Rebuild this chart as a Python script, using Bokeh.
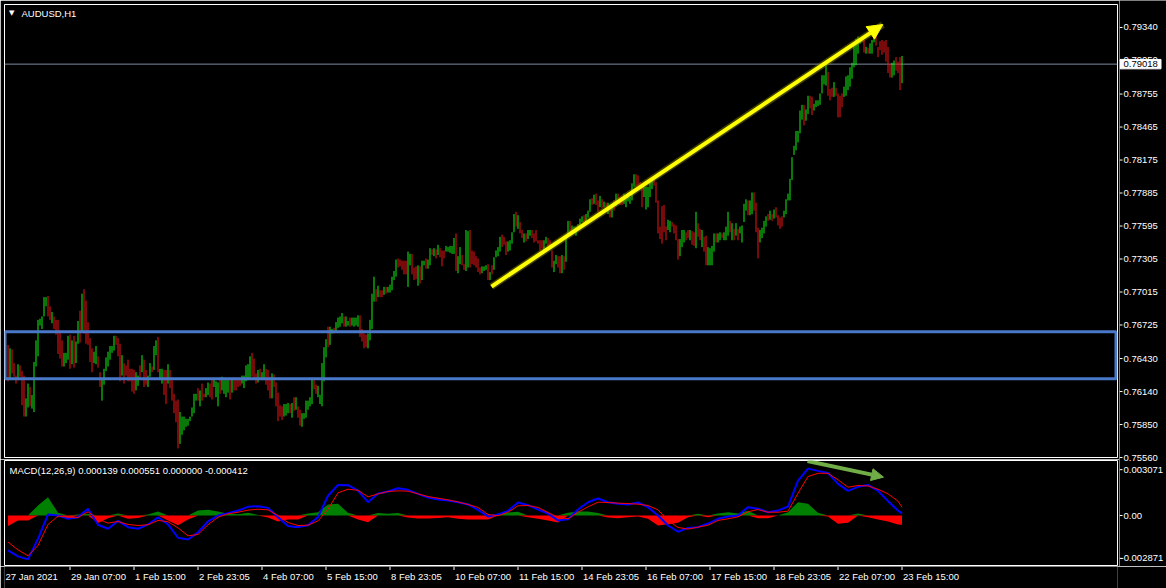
import numpy as np
from bokeh.plotting import figure
from bokeh.layouts import column, row
from bokeh.models import (ColumnDataSource, Range1d, Label, Arrow, NormalHead, Span)
from bokeh.core.properties import value
from bokeh.embed import file_html
from bokeh.resources import INLINE

# ---------------- data ----------------
symbol_title = "AUDUSD,H1"
macd_title = "MACD(12,26,9) 0.000139 0.000551 0.000000 -0.000412"

bar_high = [
    0.7655, 0.7652, 0.7651, 0.7639, 0.7628, 0.7638, 0.7637, 0.7632, 0.7628, 0.7608,
    0.7621, 0.7618, 0.7611, 0.7640, 0.7659, 0.7677, 0.7678, 0.7680, 0.7697, 0.7697,
    0.7698, 0.7689, 0.7684, 0.7680, 0.7677, 0.7677, 0.7668, 0.7659, 0.7648, 0.7648,
    0.7663, 0.7664, 0.7659, 0.7663, 0.7658, 0.7676, 0.7685, 0.7700, 0.7704, 0.7694,
    0.7675, 0.7661, 0.7652, 0.7649, 0.7654, 0.7645, 0.7631, 0.7626, 0.7634, 0.7644,
    0.7649, 0.7654, 0.7654, 0.7663, 0.7663, 0.7661, 0.7656, 0.7646, 0.7639, 0.7637,
    0.7642, 0.7634, 0.7634, 0.7633, 0.7631, 0.7628, 0.7637, 0.7646, 0.7642, 0.7633,
    0.7628, 0.7639, 0.7636, 0.7654, 0.7659, 0.7662, 0.7634, 0.7634, 0.7633, 0.7633,
    0.7638, 0.7633, 0.7624, 0.7612, 0.7606, 0.7607, 0.7596, 0.7592, 0.7592, 0.7590,
    0.7590, 0.7592, 0.7600, 0.7612, 0.7612, 0.7617, 0.7615, 0.7621, 0.7612, 0.7617,
    0.7622, 0.7621, 0.7624, 0.7626, 0.7623, 0.7622, 0.7626, 0.7627, 0.7624, 0.7624,
    0.7624, 0.7626, 0.7625, 0.7626, 0.7624, 0.7625, 0.7625, 0.7628, 0.7628, 0.7637,
    0.7638, 0.7645, 0.7648, 0.7643, 0.7630, 0.7633, 0.7634, 0.7631, 0.7638, 0.7634,
    0.7633, 0.7627, 0.7630, 0.7629, 0.7622, 0.7613, 0.7602, 0.7601, 0.7603, 0.7603,
    0.7604, 0.7603, 0.7604, 0.7609, 0.7609, 0.7601, 0.7598, 0.7595, 0.7595, 0.7606,
    0.7606, 0.7609, 0.7625, 0.7625, 0.7620, 0.7619, 0.7611, 0.7639, 0.7653, 0.7660,
    0.7671, 0.7671, 0.7669, 0.7670, 0.7675, 0.7679, 0.7680, 0.7683, 0.7680, 0.7680,
    0.7676, 0.7679, 0.7679, 0.7679, 0.7679, 0.7681, 0.7681, 0.7669, 0.7665, 0.7664,
    0.7665, 0.7677, 0.7700, 0.7715, 0.7704, 0.7707, 0.7703, 0.7703, 0.7706, 0.7706,
    0.7706, 0.7708, 0.7715, 0.7720, 0.7730, 0.7731, 0.7730, 0.7729, 0.7729, 0.7729,
    0.7737, 0.7735, 0.7735, 0.7723, 0.7724, 0.7725, 0.7724, 0.7729, 0.7729, 0.7731,
    0.7730, 0.7740, 0.7739, 0.7740, 0.7739, 0.7743, 0.7740, 0.7738, 0.7738, 0.7742,
    0.7741, 0.7742, 0.7742, 0.7749, 0.7753, 0.7733, 0.7741, 0.7734, 0.7726, 0.7756,
    0.7755, 0.7756, 0.7738, 0.7737, 0.7733, 0.7731, 0.7723, 0.7724, 0.7724, 0.7725,
    0.7726, 0.7719, 0.7725, 0.7732, 0.7738, 0.7741, 0.7750, 0.7752, 0.7750, 0.7746,
    0.7746, 0.7747, 0.7754, 0.7770, 0.7772, 0.7769, 0.7763, 0.7756, 0.7753, 0.7753,
    0.7756, 0.7756, 0.7756, 0.7753, 0.7756, 0.7747, 0.7747, 0.7747, 0.7747, 0.7750,
    0.7749, 0.7747, 0.7738, 0.7729, 0.7734, 0.7733, 0.7733, 0.7734, 0.7733, 0.7750,
    0.7764, 0.7764, 0.7760, 0.7759, 0.7759, 0.7761, 0.7766, 0.7768, 0.7769, 0.7770,
    0.7773, 0.7783, 0.7784, 0.7787, 0.7788, 0.7782, 0.7786, 0.7783, 0.7781, 0.7780,
    0.7780, 0.7777, 0.7778, 0.7782, 0.7788, 0.7788, 0.7785, 0.7786, 0.7788, 0.7784,
    0.7785, 0.7785, 0.7797, 0.7805, 0.7805, 0.7804, 0.7798, 0.7797, 0.7794, 0.7794,
    0.7794, 0.7798, 0.7800, 0.7800, 0.7798, 0.7782, 0.7759, 0.7777, 0.7778, 0.7759,
    0.7765, 0.7764, 0.7763, 0.7761, 0.7760, 0.7748, 0.7748, 0.7756, 0.7756, 0.7754,
    0.7756, 0.7756, 0.7755, 0.7754, 0.7772, 0.7762, 0.7757, 0.7756, 0.7750, 0.7751,
    0.7741, 0.7740, 0.7742, 0.7753, 0.7753, 0.7753, 0.7754, 0.7753, 0.7754, 0.7759,
    0.7772, 0.7764, 0.7762, 0.7757, 0.7762, 0.7757, 0.7759, 0.7760, 0.7779, 0.7783,
    0.7782, 0.7782, 0.7789, 0.7789, 0.7780, 0.7758, 0.7756, 0.7758, 0.7764, 0.7768,
    0.7770, 0.7773, 0.7770, 0.7774, 0.7776, 0.7769, 0.7767, 0.7768, 0.7773, 0.7783,
    0.7788, 0.7801, 0.7820, 0.7830, 0.7843, 0.7843, 0.7861, 0.7866, 0.7866, 0.7862,
    0.7874, 0.7874, 0.7873, 0.7867, 0.7870, 0.7870, 0.7876, 0.7892, 0.7892, 0.7903,
    0.7895, 0.7880, 0.7881, 0.7886, 0.7881, 0.7876, 0.7874, 0.7876, 0.7882, 0.7891,
    0.7892, 0.7899, 0.7903, 0.7920, 0.7924, 0.7926, 0.7924, 0.7926, 0.7923, 0.7917,
    0.7916, 0.7920, 0.7923, 0.7930, 0.7928, 0.7917, 0.7922, 0.7923, 0.7922, 0.7923,
    0.7917, 0.7902, 0.7903, 0.7905, 0.7908, 0.7904, 0.7908, 0.7909,
]
bar_low = [
    0.7623, 0.7624, 0.7630, 0.7627, 0.7621, 0.7624, 0.7627, 0.7602, 0.7592, 0.7592,
    0.7600, 0.7601, 0.7599, 0.7596, 0.7636, 0.7645, 0.7672, 0.7669, 0.7680, 0.7689,
    0.7680, 0.7677, 0.7674, 0.7669, 0.7664, 0.7647, 0.7643, 0.7636, 0.7636, 0.7639,
    0.7642, 0.7634, 0.7638, 0.7635, 0.7639, 0.7656, 0.7657, 0.7667, 0.7665, 0.7656,
    0.7655, 0.7640, 0.7631, 0.7639, 0.7638, 0.7635, 0.7618, 0.7606, 0.7620, 0.7632,
    0.7636, 0.7642, 0.7648, 0.7650, 0.7655, 0.7645, 0.7623, 0.7628, 0.7621, 0.7628,
    0.7623, 0.7623, 0.7614, 0.7612, 0.7615, 0.7619, 0.7624, 0.7631, 0.7618, 0.7620,
    0.7618, 0.7627, 0.7631, 0.7633, 0.7646, 0.7631, 0.7624, 0.7621, 0.7611, 0.7603,
    0.7621, 0.7617, 0.7606, 0.7595, 0.7587, 0.7564, 0.7568, 0.7576, 0.7580, 0.7583,
    0.7584, 0.7588, 0.7592, 0.7595, 0.7606, 0.7606, 0.7601, 0.7606, 0.7609, 0.7609,
    0.7611, 0.7609, 0.7607, 0.7618, 0.7609, 0.7601, 0.7612, 0.7615, 0.7612, 0.7609,
    0.7613, 0.7607, 0.7613, 0.7615, 0.7615, 0.7618, 0.7619, 0.7621, 0.7617, 0.7623,
    0.7624, 0.7626, 0.7627, 0.7625, 0.7621, 0.7622, 0.7624, 0.7624, 0.7626, 0.7620,
    0.7615, 0.7608, 0.7608, 0.7618, 0.7601, 0.7588, 0.7592, 0.7589, 0.7592, 0.7593,
    0.7595, 0.7595, 0.7591, 0.7597, 0.7598, 0.7591, 0.7584, 0.7583, 0.7590, 0.7591,
    0.7598, 0.7601, 0.7603, 0.7616, 0.7612, 0.7609, 0.7603, 0.7601, 0.7623, 0.7644,
    0.7653, 0.7655, 0.7665, 0.7665, 0.7667, 0.7670, 0.7671, 0.7674, 0.7671, 0.7671,
    0.7672, 0.7671, 0.7672, 0.7671, 0.7672, 0.7671, 0.7662, 0.7658, 0.7652, 0.7653,
    0.7652, 0.7659, 0.7669, 0.7693, 0.7693, 0.7697, 0.7697, 0.7697, 0.7699, 0.7700,
    0.7701, 0.7701, 0.7703, 0.7712, 0.7715, 0.7723, 0.7724, 0.7721, 0.7717, 0.7717,
    0.7706, 0.7725, 0.7717, 0.7712, 0.7713, 0.7707, 0.7709, 0.7712, 0.7725, 0.7722,
    0.7722, 0.7725, 0.7734, 0.7733, 0.7731, 0.7734, 0.7732, 0.7724, 0.7731, 0.7737,
    0.7737, 0.7736, 0.7735, 0.7735, 0.7720, 0.7718, 0.7726, 0.7725, 0.7721, 0.7720,
    0.7723, 0.7723, 0.7726, 0.7725, 0.7723, 0.7719, 0.7717, 0.7718, 0.7720, 0.7721,
    0.7712, 0.7712, 0.7717, 0.7721, 0.7732, 0.7733, 0.7737, 0.7741, 0.7743, 0.7734,
    0.7737, 0.7738, 0.7744, 0.7754, 0.7759, 0.7757, 0.7753, 0.7749, 0.7745, 0.7746,
    0.7748, 0.7751, 0.7749, 0.7745, 0.7746, 0.7744, 0.7738, 0.7740, 0.7738, 0.7744,
    0.7742, 0.7741, 0.7723, 0.7719, 0.7726, 0.7723, 0.7718, 0.7718, 0.7721, 0.7728,
    0.7750, 0.7753, 0.7753, 0.7753, 0.7751, 0.7756, 0.7757, 0.7763, 0.7759, 0.7762,
    0.7767, 0.7772, 0.7778, 0.7779, 0.7778, 0.7772, 0.7776, 0.7775, 0.7776, 0.7776,
    0.7770, 0.7767, 0.7767, 0.7773, 0.7777, 0.7780, 0.7778, 0.7778, 0.7779, 0.7776,
    0.7781, 0.7779, 0.7782, 0.7794, 0.7794, 0.7795, 0.7794, 0.7776, 0.7785, 0.7774,
    0.7776, 0.7785, 0.7792, 0.7795, 0.7780, 0.7753, 0.7748, 0.7744, 0.7754, 0.7747,
    0.7756, 0.7754, 0.7759, 0.7753, 0.7747, 0.7730, 0.7733, 0.7741, 0.7745, 0.7747,
    0.7749, 0.7747, 0.7743, 0.7742, 0.7740, 0.7750, 0.7747, 0.7741, 0.7737, 0.7725,
    0.7725, 0.7725, 0.7725, 0.7737, 0.7745, 0.7745, 0.7747, 0.7749, 0.7747, 0.7747,
    0.7751, 0.7754, 0.7747, 0.7747, 0.7751, 0.7747, 0.7753, 0.7745, 0.7763, 0.7773,
    0.7769, 0.7769, 0.7770, 0.7773, 0.7754, 0.7731, 0.7745, 0.7749, 0.7753, 0.7759,
    0.7764, 0.7765, 0.7764, 0.7766, 0.7767, 0.7760, 0.7757, 0.7759, 0.7767, 0.7770,
    0.7782, 0.7782, 0.7800, 0.7822, 0.7826, 0.7833, 0.7841, 0.7853, 0.7848, 0.7852,
    0.7858, 0.7863, 0.7857, 0.7861, 0.7864, 0.7865, 0.7866, 0.7876, 0.7884, 0.7883,
    0.7874, 0.7870, 0.7873, 0.7873, 0.7874, 0.7855, 0.7855, 0.7864, 0.7873, 0.7874,
    0.7879, 0.7882, 0.7889, 0.7899, 0.7901, 0.7911, 0.7920, 0.7921, 0.7912, 0.7911,
    0.7911, 0.7911, 0.7911, 0.7921, 0.7918, 0.7908, 0.7914, 0.7910, 0.7912, 0.7904,
    0.7894, 0.7890, 0.7890, 0.7892, 0.7896, 0.7894, 0.7879, 0.7885,
]
# g = up bar (close > open), r = down bar
bar_dir = ("rgrrrgrrrg" "grgggggggg" "rrgrrrrrgg" "grgrggrgrr" "rrrggrrggg"
           "ggggrrrgrr" "rrrrggrgrr" "ggrggrggrr" "grrrrrgggg" "gggggrgrrg"
           "grrgggrggg" "grgrrrrggg" "ggrrrgrggr" "rrgrrrrrgg" "grgrgrrggg"
           "gggrrggggg" "rggrggggrg" "grggggrrrr" "ggggrgrrgr" "gggggrrrrr"
           "ggrrrgrggr" "ggrgrgrrrg" "ggggrggrrg" "grrrrrrggg" "rgrggggrrr"
           "ggggrgrrgr" "ggrrrrrrgg" "rrrggrrgrg" "grggggggrg" "ggrgrrgrgr"
           "grgrgrrrgg" "ggggrrrrgg" "gggrrrrrrr" "ggrrrrgggr" "rgrrgrrgrr"
           "ggggrggrgg" "grgrgrgggg" "rggrrrgggg" "rgrgrrrrgg" "ggggggggrg"
           "grrggggggg" "rrrgrrrrgg" "gggggggrrg" "rgggrrrrrr" "rrggrrrg")

bid_price = 0.79018
price_ticks = [0.79340, 0.79050, 0.78755, 0.78465, 0.78175, 0.77885, 0.77595,
               0.77305, 0.77015, 0.76725, 0.76430, 0.76140, 0.75850, 0.75560]

time_tick_index = [0, 31, 63, 95, 127, 159, 191, 223, 255, 287, 319, 351, 383, 415, 447]
time_tick_labels = ["27 Jan 2021", "29 Jan 07:00", "1 Feb 15:00", "2 Feb 23:05",
                    "4 Feb 07:00", "5 Feb 15:00", "8 Feb 23:05", "10 Feb 07:00",
                    "11 Feb 15:00", "14 Feb 23:05", "16 Feb 07:00", "17 Feb 15:00",
                    "18 Feb 23:05", "22 Feb 07:00", "23 Feb 15:00"]

# support zone (rectangle object) and drawn arrows, in bar index / price
zone_left_bar, zone_right_bar = -1.5, 554.0
zone_top, zone_bottom = 0.76665, 0.76252
trend_arrow = dict(x0=241.75, y0=0.77063, x1=437.4, y1=0.79366)

# MACD(12,26,9) read every 5 bars
macd_index = list(range(0, 446, 5)) + [447]
macd_main = [
    -0.00234, -0.00274, -0.00294, -0.00156, 0.00007, 0.0, -0.00022, -0.00011, 0.00045, -0.00062,
    -0.00089, -0.00036, -0.00078, -0.00089, -0.0006, -0.00013, -0.0006, -0.00149, -0.00161, -0.00112,
    -0.0004, 0.0, 0.00016, 0.00033, 0.00058, 0.00062, 0.00051, -0.00011, -0.00071, -0.00078,
    -0.00065, -0.00011, 0.00132, 0.00205, 0.00203, 0.00167, 0.00089, 0.00147, 0.00161, 0.00183,
    0.00172, 0.00145, 0.0012, 0.00107, 0.001, 0.00089, 0.00074, 0.00038, -0.00007, 0.00007,
    0.00031, 0.00087, 0.00069, 0.0004, 0.00013, -0.00033, -0.00025, 0.0004, 0.00089, 0.00114,
    0.00089, 0.00078, 0.00074, 0.00087, 0.00056, 0.0, -0.00067, -0.00109, -0.00083, -0.00078,
    -0.00054, -0.00022, -0.00007, 0.0, 0.00056, 0.00045, 0.00022, 0.00033, 0.0006, 0.00234,
    0.00314, 0.00299, 0.00285, 0.00212, 0.00165, 0.00192, 0.00205, 0.00165, 0.00096, 0.00033,
    0.000139,
]
macd_signal = [
    -0.00178, -0.0023, -0.0027, -0.00201, -0.0006, -0.00004, -0.00011, -0.00013, 0.00025, -0.00025,
    -0.00051, -0.0004, -0.0006, -0.00067, -0.00062, -0.00033, -0.00042, -0.00083, -0.00136, -0.00127,
    -0.00062, -0.00011, 0.00011, 0.00022, 0.00036, 0.00042, 0.00038, 0.0, -0.00047, -0.00067,
    -0.00065, -0.00036, 0.00042, 0.00152, 0.00176, 0.00169, 0.00125, 0.00145, 0.00161, 0.00165,
    0.00163, 0.00145, 0.00127, 0.00116, 0.00105, 0.00091, 0.00074, 0.00054, 0.00007, -0.00002,
    0.00022, 0.00065, 0.00067, 0.00054, 0.0002, -0.00013, -0.00022, 0.00022, 0.00058, 0.00089,
    0.00087, 0.00083, 0.0008, 0.00076, 0.00067, 0.00038, -0.00033, -0.0008, -0.00091, -0.00078,
    -0.00065, -0.00033, -0.00022, -0.00009, 0.00025, 0.0004, 0.00022, 0.00022, 0.00029, 0.00149,
    0.00261, 0.00283, 0.00283, 0.00239, 0.0019, 0.00201, 0.00198, 0.00176, 0.00145, 0.00096,
    0.000551,
]
macd_hist = [
    -0.00071, -0.00033, -0.00033, 0.00067, 0.00123, 0.00018, -0.00022, 0.00007, 0.00011, -0.00051,
    -0.00018, 0.00013, -0.00022, -0.00016, 0.00007, 0.00027, -0.00033, -0.00065, -0.00027, 0.00033,
    0.00038, 0.00027, 0.00011, 0.00009, 0.00018, 0.00004, -0.00013, -0.0004, -0.00027, -0.00027,
    0.00013, 0.00022, 0.00074, 0.00078, 0.00018, -0.00027, -0.00045, 0.00016, 0.00011, 0.00016,
    -0.00013, -0.0002, -0.0002, -0.00016, -0.00011, -0.00022, -0.00027, -0.00027, -0.00027, 0.00011,
    0.0002, 0.00025, -0.00011, -0.00022, -0.00033, -0.00047, 0.00018, 0.00027, 0.00027, 0.00016,
    -0.00013, -0.00018, -0.00011, -0.00007, -0.00022, -0.00067, -0.00058, -0.00049, -0.00011, 0.00011,
    -0.00011, 0.00013, 0.00022, 0.00013, 0.00031, -0.00018, -0.00018, 0.0, 0.00022, 0.00089,
    0.00078, 0.00018, -0.00007, -0.00056, -0.00049, 0.00013, -0.00011, -0.00027, -0.0004, -0.0006,
    -0.00062,
]
macd_ticks = [0.003071, 0.0, -0.002871]
macd_tick_labels = ["0.003071", "0.00", "-0.002871"]
macd_arrow = dict(x0=399.75, y0=0.00365, x1=437.75, y1=0.00257)

# ---------------- layout helpers (page pixels -> data units) ----------------
W_TOT, H_TOT = 1166, 588
FR_L, FR_R = 4, 1117               # plot frame edges (px)
PF_TOP, PF_BOT = 4, 457            # price frame
MF_TOP, MF_BOT = 460, 565          # MACD frame
P_W = FR_R + 2
S_W = W_TOT - P_W
P_H = PF_BOT + 2
M_H = (MF_TOP - P_H) + (MF_BOT - MF_TOP) + 1
B_H = H_TOT - P_H - M_H
PX_PRICE = 0.0000879               # price per pixel


def bar_at(px):
    return (px - 7.5) / 2.0


def price_at(py):
    return 0.795773 - PX_PRICE * py


def macd_at(py):
    return (515.0 - py) * 0.000067


FONT = "Liberation Sans"
FS = "9.5px"
UP, DOWN = "#14ee14", "#ee1414"
YEL, GRN = "#ffff00", "#70ad47"
TXT = dict(text_font=value(FONT), text_font_size=value(FS), text_baseline="middle", text_align="left")

xr = Range1d(bar_at(FR_L), bar_at(FR_R))
base = dict(output_backend="svg", toolbar_location=None, background_fill_color="black",
            border_fill_color="black", x_axis_location=None, y_axis_location=None, min_border=0)

# ---------------- price panel ----------------
p = figure(width=P_W, height=P_H, x_range=xr, y_range=Range1d(price_at(PF_BOT), price_at(PF_TOP)),
           min_border_left=FR_L, min_border_right=P_W - FR_R, min_border_top=PF_TOP,
           min_border_bottom=P_H - PF_BOT, **base)
p.outline_line_color = "white"
p.grid.visible = False

p.add_layout(Span(location=bid_price, dimension="width", line_color="#7d8ba0", line_width=1,
                  level="underlay"))

idx = np.arange(len(bar_high))
colors = [UP if c == "g" else DOWN for c in bar_dir]
src = ColumnDataSource(dict(x=idx, lo=bar_low, hi=bar_high, c=colors))
p.segment(x0="x", y0="lo", x1="x", y1="hi", line_color="c", line_width=1, source=src)

p.quad(left=[zone_left_bar], right=[zone_right_bar], top=[zone_top], bottom=[zone_bottom],
       fill_color=None, line_color="#4a78c8", line_width=3)

# soft halo under the drawn trend arrow, then the arrow itself
p.add_layout(Arrow(end=None, x_start=trend_arrow["x0"], y_start=trend_arrow["y0"],
                   x_end=trend_arrow["x1"], y_end=trend_arrow["y1"],
                   line_color="#8a8a00", line_alpha=0.45, line_width=7))
p.add_layout(Arrow(end=NormalHead(size=15, fill_color=YEL, line_color=YEL, line_width=1),
                   x_start=trend_arrow["x0"], y_start=trend_arrow["y0"],
                   x_end=trend_arrow["x1"], y_end=trend_arrow["y1"],
                   line_color=YEL, line_width=4))

p.add_layout(Label(x=bar_at(8.5), y=price_at(12.5), text="\u25bc", text_color="white",
                   text_font="DejaVu Sans", text_font_size="7px", text_baseline="middle"))
p.add_layout(Label(x=bar_at(21), y=price_at(12.5), text=symbol_title, text_color="white",
                   text_font=FONT, text_font_size=FS, text_baseline="middle"))

# ---------------- MACD panel ----------------
m = figure(width=P_W, height=M_H, x_range=xr, y_range=Range1d(macd_at(MF_BOT), macd_at(MF_TOP)),
           min_border_left=FR_L, min_border_right=P_W - FR_R, min_border_top=MF_TOP - P_H,
           min_border_bottom=P_H + M_H - MF_BOT, **base)
m.outline_line_color = "white"
m.grid.visible = False

h = np.array(macd_hist)
m.varea(x=macd_index, y1=0, y2=np.maximum(h, 0), fill_color="#008000")
m.varea(x=macd_index, y1=np.minimum(h, 0), y2=0, fill_color="#ff0000")
m.line(macd_index, macd_main, line_color="#0000ff", line_width=2)
m.line(macd_index, macd_signal, line_color="#ff0000", line_width=1)

m.add_layout(Arrow(end=NormalHead(size=12, fill_color=GRN, line_color=GRN, line_width=1),
                   x_start=macd_arrow["x0"], y_start=macd_arrow["y0"],
                   x_end=macd_arrow["x1"], y_end=macd_arrow["y1"],
                   line_color=GRN, line_width=4))
m.add_layout(Label(x=bar_at(9), y=macd_at(469.5), text=macd_title, text_color="white",
                   text_font=FONT, text_font_size=FS, text_baseline="middle"))

# ---------------- right-hand price / MACD scale ----------------
S_H = P_H + M_H
s = figure(width=S_W, height=S_H, x_range=Range1d(0, S_W),
           y_range=Range1d(price_at(S_H), price_at(0)), **base)
s.extra_y_ranges = {"macd": Range1d(macd_at(S_H), macd_at(0))}
s.outline_line_color = None
s.grid.visible = False

ps = ColumnDataSource(dict(y=price_ticks, t=[f"{v:.5f}" for v in price_ticks]))
s.segment(x0=0, y0="y", x1=3, y1="y", line_color="white", line_width=1, source=ps)
s.text(x=4, y="y", text="t", text_color="white", source=ps, **TXT)

half_box = 4.7 * PX_PRICE
s.quad(left=[0.5], right=[41.5], bottom=[bid_price - half_box], top=[bid_price + half_box],
       fill_color="white", line_color="white")
s.text(x=[4], y=[bid_price], text=[f"{bid_price:.5f}"], text_color="black", **TXT)

ms = ColumnDataSource(dict(y=macd_ticks, t=macd_tick_labels,
                           dx=[-3 if v < 0 else 0 for v in macd_ticks]))
s.segment(x0=0, y0="y", x1=3, y1="y", line_color="white", line_width=1, source=ms, y_range_name="macd")
s.text(x=4, y="y", text="t", x_offset="dx", text_color="white", source=ms, y_range_name="macd", **TXT)

# ---------------- time scale ----------------
b = figure(width=W_TOT, height=B_H, x_range=xr, y_range=Range1d(B_H, 0),
           min_border_left=FR_L, min_border_right=W_TOT - FR_R, **base)
b.outline_line_color = None
b.grid.visible = False
ts = ColumnDataSource(dict(x=time_tick_index[1:]))
b.segment(x0="x", y0=0, x1="x", y1=3.5, line_color="white", line_width=1, source=ts)
lab_x = [xr.start] + time_tick_index[1:]
ls = ColumnDataSource(dict(x=lab_x, t=time_tick_labels))
b.text(x="x", y=575.5 - (P_H + M_H), text="t", x_offset=1, text_color="white", source=ls, **TXT)

layout = column(row(column(p, m), s), b)
open("out.html", "w").write(file_html(layout, INLINE, title="AUDUSD,H1"))
